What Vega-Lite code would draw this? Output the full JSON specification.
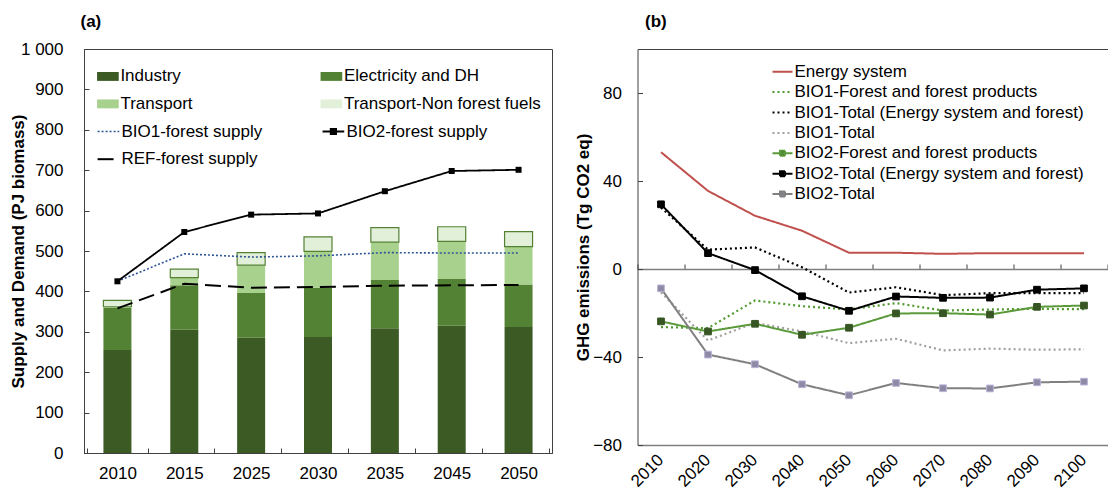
{
  "$schema": "https://vega.github.io/schema/vega-lite/v6.json",
  "padding": {"left": 9, "top": 11, "right": 0, "bottom": 0},
  "spacing": 21.5,
  "resolve": {"scale": {"color": "independent", "fill": "independent", "stroke": "independent", "strokeDash": "independent", "strokeWidth": "independent", "x": "independent", "y": "independent"}, "legend": {"color": "independent", "fill": "independent", "stroke": "independent", "strokeDash": "independent"}},
  "config": {
    "font": "Liberation Sans",
    "view": {"stroke": "#404040", "strokeWidth": 1},
    "axis": {"labelFont": "Liberation Sans", "titleFont": "Liberation Sans", "labelColor": "black", "titleColor": "black", "labelFontSize": 17, "titleFontSize": 17, "grid": false, "domainColor": "#404040", "tickColor": "#404040"},
    "legend": {"labelFont": "Liberation Sans", "labelColor": "black", "labelFontSize": 17, "offset": 0},
    "title": {"font": "Liberation Sans", "fontSize": 17, "fontWeight": "bold", "color": "black"}
  },
  "datasets": {
    "demand": [
      {"year": 2010, "sector": "Industry", "value": 255},
      {"year": 2010, "sector": "Electricity and DH", "value": 104},
      {"year": 2010, "sector": "Transport", "value": 3},
      {"year": 2010, "sector": "Transport-Non forest fuels", "value": 16},
      {"year": 2015, "sector": "Industry", "value": 305},
      {"year": 2015, "sector": "Electricity and DH", "value": 110},
      {"year": 2015, "sector": "Transport", "value": 19},
      {"year": 2015, "sector": "Transport-Non forest fuels", "value": 21},
      {"year": 2025, "sector": "Industry", "value": 285},
      {"year": 2025, "sector": "Electricity and DH", "value": 111},
      {"year": 2025, "sector": "Transport", "value": 69},
      {"year": 2025, "sector": "Transport-Non forest fuels", "value": 31},
      {"year": 2030, "sector": "Industry", "value": 287},
      {"year": 2030, "sector": "Electricity and DH", "value": 122},
      {"year": 2030, "sector": "Transport", "value": 90},
      {"year": 2030, "sector": "Transport-Non forest fuels", "value": 36},
      {"year": 2035, "sector": "Industry", "value": 309},
      {"year": 2035, "sector": "Electricity and DH", "value": 119},
      {"year": 2035, "sector": "Transport", "value": 94},
      {"year": 2035, "sector": "Transport-Non forest fuels", "value": 36},
      {"year": 2045, "sector": "Industry", "value": 315},
      {"year": 2045, "sector": "Electricity and DH", "value": 116},
      {"year": 2045, "sector": "Transport", "value": 93},
      {"year": 2045, "sector": "Transport-Non forest fuels", "value": 36},
      {"year": 2050, "sector": "Industry", "value": 312},
      {"year": 2050, "sector": "Electricity and DH", "value": 105},
      {"year": 2050, "sector": "Transport", "value": 94},
      {"year": 2050, "sector": "Transport-Non forest fuels", "value": 37}
    ],
    "supply": [
      {"year": 2010, "series": "BIO1-forest supply", "value": 425},
      {"year": 2015, "series": "BIO1-forest supply", "value": 493},
      {"year": 2025, "series": "BIO1-forest supply", "value": 485},
      {"year": 2030, "series": "BIO1-forest supply", "value": 488},
      {"year": 2035, "series": "BIO1-forest supply", "value": 496},
      {"year": 2045, "series": "BIO1-forest supply", "value": 495},
      {"year": 2050, "series": "BIO1-forest supply", "value": 495},
      {"year": 2010, "series": "BIO2-forest supply", "value": 425},
      {"year": 2015, "series": "BIO2-forest supply", "value": 547},
      {"year": 2025, "series": "BIO2-forest supply", "value": 590},
      {"year": 2030, "series": "BIO2-forest supply", "value": 593},
      {"year": 2035, "series": "BIO2-forest supply", "value": 648},
      {"year": 2045, "series": "BIO2-forest supply", "value": 698},
      {"year": 2050, "series": "BIO2-forest supply", "value": 701},
      {"year": 2010, "series": "REF-forest supply", "value": 358},
      {"year": 2015, "series": "REF-forest supply", "value": 419},
      {"year": 2025, "series": "REF-forest supply", "value": 409},
      {"year": 2030, "series": "REF-forest supply", "value": 411},
      {"year": 2035, "series": "REF-forest supply", "value": 414},
      {"year": 2045, "series": "REF-forest supply", "value": 415},
      {"year": 2050, "series": "REF-forest supply", "value": 416}
    ],
    "ghg": [
      {"year": 2010, "series": "Energy system", "value": 53.1},
      {"year": 2020, "series": "Energy system", "value": 35.5},
      {"year": 2030, "series": "Energy system", "value": 24.2},
      {"year": 2040, "series": "Energy system", "value": 17.4},
      {"year": 2050, "series": "Energy system", "value": 7.4},
      {"year": 2060, "series": "Energy system", "value": 7.4},
      {"year": 2070, "series": "Energy system", "value": 6.9},
      {"year": 2080, "series": "Energy system", "value": 7.2},
      {"year": 2090, "series": "Energy system", "value": 7.2},
      {"year": 2100, "series": "Energy system", "value": 7.2},
      {"year": 2010, "series": "BIO1-Forest and forest products", "value": -26.4},
      {"year": 2020, "series": "BIO1-Forest and forest products", "value": -26.9},
      {"year": 2030, "series": "BIO1-Forest and forest products", "value": -14.3},
      {"year": 2040, "series": "BIO1-Forest and forest products", "value": -16.9},
      {"year": 2050, "series": "BIO1-Forest and forest products", "value": -18.4},
      {"year": 2060, "series": "BIO1-Forest and forest products", "value": -15.5},
      {"year": 2070, "series": "BIO1-Forest and forest products", "value": -18.9},
      {"year": 2080, "series": "BIO1-Forest and forest products", "value": -18.4},
      {"year": 2090, "series": "BIO1-Forest and forest products", "value": -18.1},
      {"year": 2100, "series": "BIO1-Forest and forest products", "value": -18.3},
      {"year": 2010, "series": "BIO1-Total (Energy system and forest)", "value": 27.9},
      {"year": 2020, "series": "BIO1-Total (Energy system and forest)", "value": 8.8},
      {"year": 2030, "series": "BIO1-Total (Energy system and forest)", "value": 9.8},
      {"year": 2040, "series": "BIO1-Total (Energy system and forest)", "value": 0.8},
      {"year": 2050, "series": "BIO1-Total (Energy system and forest)", "value": -10.7},
      {"year": 2060, "series": "BIO1-Total (Energy system and forest)", "value": -8.3},
      {"year": 2070, "series": "BIO1-Total (Energy system and forest)", "value": -11.9},
      {"year": 2080, "series": "BIO1-Total (Energy system and forest)", "value": -11.0},
      {"year": 2090, "series": "BIO1-Total (Energy system and forest)", "value": -11.0},
      {"year": 2100, "series": "BIO1-Total (Energy system and forest)", "value": -11.0},
      {"year": 2010, "series": "BIO1-Total", "value": -10.6},
      {"year": 2020, "series": "BIO1-Total", "value": -32.5},
      {"year": 2030, "series": "BIO1-Total", "value": -24.5},
      {"year": 2040, "series": "BIO1-Total", "value": -28.4},
      {"year": 2050, "series": "BIO1-Total", "value": -33.7},
      {"year": 2060, "series": "BIO1-Total", "value": -31.7},
      {"year": 2070, "series": "BIO1-Total", "value": -37.0},
      {"year": 2080, "series": "BIO1-Total", "value": -36.2},
      {"year": 2090, "series": "BIO1-Total", "value": -36.7},
      {"year": 2100, "series": "BIO1-Total", "value": -36.5},
      {"year": 2010, "series": "BIO2-Forest and forest products", "value": -23.8},
      {"year": 2020, "series": "BIO2-Forest and forest products", "value": -28.4},
      {"year": 2030, "series": "BIO2-Forest and forest products", "value": -24.9},
      {"year": 2040, "series": "BIO2-Forest and forest products", "value": -29.9},
      {"year": 2050, "series": "BIO2-Forest and forest products", "value": -26.7},
      {"year": 2060, "series": "BIO2-Forest and forest products", "value": -20.2},
      {"year": 2070, "series": "BIO2-Forest and forest products", "value": -20.1},
      {"year": 2080, "series": "BIO2-Forest and forest products", "value": -20.7},
      {"year": 2090, "series": "BIO2-Forest and forest products", "value": -17.2},
      {"year": 2100, "series": "BIO2-Forest and forest products", "value": -16.6},
      {"year": 2010, "series": "BIO2-Total (Energy system and forest)", "value": 29.4},
      {"year": 2020, "series": "BIO2-Total (Energy system and forest)", "value": 7.2},
      {"year": 2030, "series": "BIO2-Total (Energy system and forest)", "value": -0.5},
      {"year": 2040, "series": "BIO2-Total (Energy system and forest)", "value": -12.4},
      {"year": 2050, "series": "BIO2-Total (Energy system and forest)", "value": -19.0},
      {"year": 2060, "series": "BIO2-Total (Energy system and forest)", "value": -12.5},
      {"year": 2070, "series": "BIO2-Total (Energy system and forest)", "value": -13.1},
      {"year": 2080, "series": "BIO2-Total (Energy system and forest)", "value": -13.0},
      {"year": 2090, "series": "BIO2-Total (Energy system and forest)", "value": -9.4},
      {"year": 2100, "series": "BIO2-Total (Energy system and forest)", "value": -8.8},
      {"year": 2010, "series": "BIO2-Total", "value": -8.8},
      {"year": 2020, "series": "BIO2-Total", "value": -38.9},
      {"year": 2030, "series": "BIO2-Total", "value": -43.3},
      {"year": 2040, "series": "BIO2-Total", "value": -52.4},
      {"year": 2050, "series": "BIO2-Total", "value": -57.4},
      {"year": 2060, "series": "BIO2-Total", "value": -51.8},
      {"year": 2070, "series": "BIO2-Total", "value": -54.2},
      {"year": 2080, "series": "BIO2-Total", "value": -54.3},
      {"year": 2090, "series": "BIO2-Total", "value": -51.5},
      {"year": 2100, "series": "BIO2-Total", "value": -51.2}
    ]
  },
  "hconcat": [
    {
      "width": 468,
      "height": 404,
      "resolve": {"axis": {"x": "independent"}},
      "layer": [
        {
          "data": {"name": "demand"},
          "transform": [{"calculate": "indexof(['Industry','Electricity and DH','Transport','Transport-Non forest fuels'], datum.sector)", "as": "ord"}],
          "mark": {"type": "bar", "width": 28, "strokeWidth": 1.2},
          "encoding": {
            "x": {"field": "year", "type": "ordinal", "axis": {"orient": "bottom", "title": null, "labelAngle": 0, "tickBand": "extent", "tickSize": -5, "labelPadding": 17}},
            "y": {"field": "value", "type": "quantitative", "stack": "zero", "scale": {"domain": [0, 1000], "nice": false},
              "axis": {"title": "Supply and Demand (PJ biomass)", "titleFontWeight": "bold", "values": [0,100,200,300,400,500,600,700,800,900,1000], "labelExpr": "replace(format(datum.value, ','), ',', ' ')", "tickSize": -5, "labelPadding": 26, "titleX": -65.3, "titleY": 202, "titleAngle": -90, "titleAlign": "center", "titleBaseline": "middle"}},
            "fill": {"field": "sector", "type": "nominal",
              "scale": {"domain": ["Industry", "Electricity and DH", "Transport", "Transport-Non forest fuels"], "range": ["#3b5a24", "#548235", "#a9d18e", "#e2f0d9"]},
              "legend": {"title": null, "orient": "none", "direction": "horizontal", "legendX": 12.4, "legendY": 15.7, "columns": 2, "columnPadding": 126.5, "rowPadding": 7.7, "padding": 0, "offset": 0, "symbolType": "M-1,-0.41H1V0.41H-1Z", "symbolSize": 470, "symbolStrokeWidth": 1.2, "labelOffset": 1, "labelLimit": 400,
                "encode": {"symbols": {"update": {"stroke": {"signal": "datum.value === 'Transport-Non forest fuels' ? '#548235' : 'transparent'"}}}}}},
            "stroke": {"condition": {"test": "datum.sector === 'Transport-Non forest fuels'", "value": "#548235"}, "value": null},
            "order": {"field": "ord", "type": "quantitative"}
          }
        },
        {
          "data": {"name": "supply"},
          "mark": {"type": "line"},
          "encoding": {
            "x": {"field": "year", "type": "ordinal", "axis": null},
            "y": {"field": "value", "type": "quantitative"},
            "stroke": {"field": "series", "type": "nominal",
              "scale": {"domain": ["BIO1-forest supply", "BIO2-forest supply", "REF-forest supply"], "range": ["#2f5597", "black", "black"]},
              "legend": {"title": null, "orient": "none", "direction": "horizontal", "legendX": 12.4, "legendY": 70.5, "columns": 2, "columnPadding": 56, "rowPadding": 7.7, "padding": 0, "offset": 0, "symbolSize": 470, "symbolStrokeWidth": 2, "labelOffset": 1, "labelLimit": 400,
                "encode": {"symbols": {"update": {"shape": {"signal": "datum.value === 'BIO2-forest supply' ? 'M-1,0H1M-0.25,-0.25H0.25V0.25H-0.25Z' : 'stroke'"}, "fill": {"signal": "datum.value === 'BIO2-forest supply' ? 'black' : 'transparent'"}}}}}},
            "strokeDash": {"field": "series", "type": "nominal",
              "scale": {"domain": ["BIO1-forest supply", "BIO2-forest supply", "REF-forest supply"], "range": [[2, 2], [1, 0], [16, 7]]},
              "legend": {"title": null, "orient": "none", "direction": "horizontal", "legendX": 12.4, "legendY": 70.5, "columns": 2, "columnPadding": 56, "rowPadding": 7.7, "padding": 0, "offset": 0, "symbolSize": 470, "symbolStrokeWidth": 2, "labelOffset": 1, "labelLimit": 400,
                "encode": {"symbols": {"update": {"shape": {"signal": "datum.value === 'BIO2-forest supply' ? 'M-1,0H1M-0.25,-0.25H0.25V0.25H-0.25Z' : 'stroke'"}, "fill": {"signal": "datum.value === 'BIO2-forest supply' ? 'black' : 'transparent'"}}}}}},
            "strokeWidth": {"field": "series", "type": "nominal", "scale": {"domain": ["BIO1-forest supply", "BIO2-forest supply", "REF-forest supply"], "range": [1.6, 2, 2.2]}, "legend": null}
          }
        },
        {
          "data": {"name": "supply"},
          "transform": [{"filter": "datum.series === 'BIO2-forest supply'"}],
          "mark": {"type": "point", "shape": "square", "filled": true, "size": 36, "color": "black", "opacity": 1},
          "encoding": {
            "x": {"field": "year", "type": "ordinal", "axis": {"orient": "top", "labels": false, "ticks": false, "domain": false, "title": "(a)", "titleFontWeight": "bold", "titleAnchor": "start", "titleAlign": "left", "titleBaseline": "alphabetic", "titleX": -4, "titleY": -22.7}},
            "y": {"field": "value", "type": "quantitative"}
          }
        }
      ]
    },
    {
      "width": 470,
      "height": 396,
      "view": {"stroke": null},
      "resolve": {"axis": {"x": "independent"}},
      "layer": [
        {
          "data": {"name": "ghg"},
          "transform": [{"filter": {"field": "series", "oneOf": ["BIO1-Forest and forest products", "BIO1-Total (Energy system and forest)", "BIO1-Total"]}}],
          "mark": {"type": "line", "strokeWidth": 2.2},
          "encoding": {
            "x": {"field": "year", "type": "ordinal", "axis": {"orient": "bottom", "title": null, "labelAngle": -45, "labelAlign": "right", "labelBaseline": "middle", "ticks": false, "labelPadding": 12, "domainColor": "#7f7f7f", "domainWidth": 1.5}},
            "y": {"field": "value", "type": "quantitative", "scale": {"domain": [-80, 100], "nice": false},
              "axis": {"title": "GHG emissions (Tg CO2 eq)", "titleFontWeight": "bold", "values": [-80, -40, 0, 40, 80], "tickSize": -5, "labelPadding": 21, "titleX": -54, "titleY": 198, "titleAngle": -90, "titleAlign": "center", "titleBaseline": "middle"}},
            "color": {"field": "series", "type": "nominal",
              "scale": {"domain": ["Energy system", "BIO1-Forest and forest products", "BIO1-Total (Energy system and forest)", "BIO1-Total", "BIO2-Forest and forest products", "BIO2-Total (Energy system and forest)", "BIO2-Total"], "range": ["#c0504d", "#4e9a2e", "black", "#a0a0a0", "#5a9a3a", "black", "#808080"]},
              "legend": {"title": null, "orient": "none", "legendX": 134, "legendY": 11.7, "rowPadding": 1.4, "padding": 0, "offset": 0, "symbolSize": 400, "symbolStrokeWidth": 2, "labelOffset": 1, "labelLimit": 400,
                "encode": {"symbols": {"update": {"shape": {"signal": "indexof(['BIO2-Forest and forest products','BIO2-Total (Energy system and forest)','BIO2-Total'], datum.value) >= 0 ? 'M-1,0H1M-0.25,-0.25H0.25V0.25H-0.25Z' : 'stroke'"}, "fill": {"signal": "datum.value === 'BIO2-Forest and forest products' ? '#375623' : datum.value === 'BIO2-Total (Energy system and forest)' ? 'black' : datum.value === 'BIO2-Total' ? '#8e8aa5' : 'transparent'"}}}}}},
            "strokeDash": {"field": "series", "type": "nominal",
              "scale": {"domain": ["Energy system", "BIO1-Forest and forest products", "BIO1-Total (Energy system and forest)", "BIO1-Total", "BIO2-Forest and forest products", "BIO2-Total (Energy system and forest)", "BIO2-Total"], "range": [[1, 0], [2, 3], [2, 3], [2, 3], [1, 0], [1, 0], [1, 0]]},
              "legend": {"title": null, "orient": "none", "legendX": 134, "legendY": 11.7, "rowPadding": 1.4, "padding": 0, "offset": 0, "symbolSize": 400, "symbolStrokeWidth": 2, "labelOffset": 1, "labelLimit": 400,
                "encode": {"symbols": {"update": {"shape": {"signal": "indexof(['BIO2-Forest and forest products','BIO2-Total (Energy system and forest)','BIO2-Total'], datum.value) >= 0 ? 'M-1,0H1M-0.25,-0.25H0.25V0.25H-0.25Z' : 'stroke'"}, "fill": {"signal": "datum.value === 'BIO2-Forest and forest products' ? '#375623' : datum.value === 'BIO2-Total (Energy system and forest)' ? 'black' : datum.value === 'BIO2-Total' ? '#8e8aa5' : 'transparent'"}}}}}}
          }
        },
        {
          "data": {"name": "ghg"},
          "transform": [{"filter": {"field": "series", "oneOf": ["Energy system", "BIO2-Forest and forest products", "BIO2-Total (Energy system and forest)", "BIO2-Total"]}}],
          "mark": {"type": "line", "strokeWidth": 2},
          "encoding": {
            "x": {"field": "year", "type": "ordinal", "axis": {"orient": "top", "offset": -220, "labels": false, "title": null, "tickBand": "extent", "tickSize": 5, "domainColor": "#7f7f7f", "domainWidth": 1.5}},
            "y": {"field": "value", "type": "quantitative"},
            "color": {"field": "series", "type": "nominal"},
            "strokeDash": {"field": "series", "type": "nominal"}
          }
        },
        {
          "data": {"name": "ghg"},
          "transform": [{"filter": {"field": "series", "oneOf": ["BIO2-Forest and forest products", "BIO2-Total (Energy system and forest)", "BIO2-Total"]}}],
          "mark": {"type": "point", "shape": "square", "filled": true, "size": 45, "opacity": 1, "strokeWidth": 1},
          "encoding": {
            "x": {"field": "year", "type": "ordinal", "axis": {"orient": "top", "labels": false, "ticks": false, "domainColor": "#404040", "title": "(b)", "titleFontWeight": "bold", "titleAnchor": "start", "titleAlign": "left", "titleBaseline": "alphabetic", "titleX": 7, "titleY": -22.7}},
            "y": {"field": "value", "type": "quantitative"},
            "fill": {"field": "series", "type": "nominal", "scale": {"domain": ["BIO2-Forest and forest products", "BIO2-Total (Energy system and forest)", "BIO2-Total"], "range": ["#375623", "black", "#8e8aa5"]}, "legend": null},
            "stroke": {"field": "series", "type": "nominal", "scale": {"domain": ["BIO2-Forest and forest products", "BIO2-Total (Energy system and forest)", "BIO2-Total"], "range": ["#375623", "black", "#b8b3d6"]}, "legend": null}
          }
        }
      ]
    }
  ]
}
